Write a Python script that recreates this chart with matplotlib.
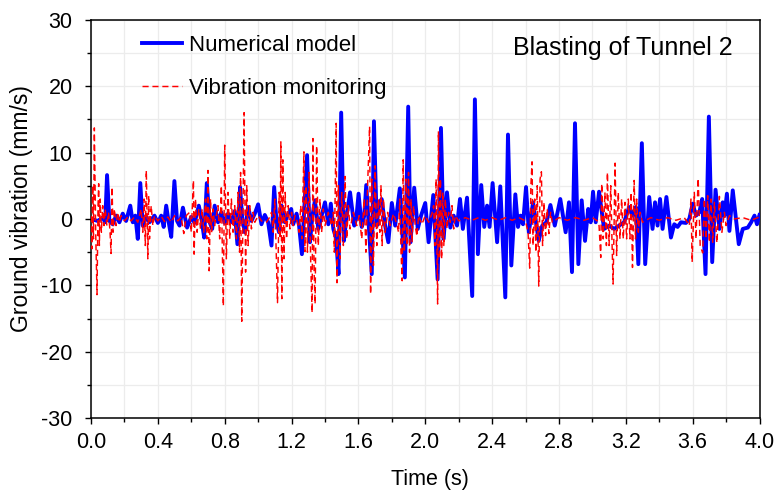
import matplotlib
matplotlib.use("Agg")
import matplotlib.pyplot as plt
from matplotlib.ticker import MultipleLocator, FormatStrFormatter

# ---------------- data ----------------
model_time = [
    0.000, 0.040, 0.070, 0.085, 0.096, 0.110, 0.130, 0.150, 0.170, 0.190,
    0.210, 0.235, 0.250, 0.265, 0.280, 0.295, 0.310, 0.330, 0.350, 0.380,
    0.400, 0.420, 0.435, 0.450, 0.465, 0.480, 0.499, 0.515, 0.530, 0.550,
    0.575, 0.600, 0.620, 0.645, 0.660, 0.677, 0.693, 0.710, 0.725, 0.740,
    0.760, 0.780, 0.800, 0.820, 0.840, 0.860, 0.876, 0.892, 0.905, 0.920,
    0.940, 0.960, 0.980, 1.000, 1.020, 1.040, 1.060, 1.080, 1.096, 1.110,
    1.125, 1.140, 1.160, 1.180, 1.198, 1.210, 1.230, 1.245, 1.262, 1.293,
    1.310, 1.325, 1.340, 1.360, 1.380, 1.400, 1.420, 1.435, 1.450, 1.467,
    1.481, 1.497, 1.513, 1.530, 1.550, 1.575, 1.588, 1.601, 1.620, 1.635,
    1.647, 1.680, 1.693, 1.710, 1.722, 1.739, 1.760, 1.779, 1.800, 1.820,
    1.848, 1.878, 1.898, 1.912, 1.934, 1.955, 1.975, 2.000, 2.020, 2.048,
    2.074, 2.094, 2.110, 2.130, 2.150, 2.170, 2.190, 2.208, 2.225, 2.250,
    2.281, 2.297, 2.315, 2.335, 2.353, 2.370, 2.385, 2.403, 2.430, 2.449,
    2.479, 2.495, 2.515, 2.539, 2.555, 2.570, 2.585, 2.603, 2.620, 2.645,
    2.679, 2.700, 2.725, 2.749, 2.775, 2.808, 2.840, 2.860, 2.878, 2.896,
    2.916, 2.936, 2.956, 2.975, 2.990, 3.004, 3.020, 3.040, 3.070, 3.100,
    3.130, 3.160, 3.190, 3.220, 3.240, 3.260, 3.275, 3.296, 3.316, 3.340,
    3.360, 3.375, 3.390, 3.405, 3.420, 3.443, 3.470, 3.490, 3.510, 3.530,
    3.560, 3.580, 3.600, 3.620, 3.640, 3.657, 3.677, 3.697, 3.717, 3.737,
    3.760, 3.780, 3.790, 3.805, 3.820, 3.840, 3.876, 3.900, 3.930, 3.950,
    3.970, 3.985, 4.000,
]
model_velocity = [
    0.0, -0.3, 0.2, -0.5, 6.6, -0.3, -0.8, 0.5, -0.5, 0.8,
    -0.3, 2.0, -0.5, 0.5, -3.0, 5.4, -1.0, 0.3, -0.5, 0.5,
    -0.6, 0.5, -1.2, 2.0, -0.5, -2.7, 5.7, -0.3, -1.0, 1.7,
    -1.3, 0.3, -0.6, 2.0, 0.2, -2.8, 5.4, -0.5, -1.5, 2.0,
    -0.5, 1.0, -0.6, 0.8, -0.5, 1.2, -3.8, 4.8, 0.0, -2.0,
    1.8, -0.3, 0.8, 2.2, -0.8, 0.6, -0.5, -4.0, 4.8, -0.5,
    -2.0, 2.0, -0.5, 0.8, 1.5, -0.8, 0.8, -1.0, -5.3, 9.6,
    -3.5, 0.5, 2.8, -1.5, 0.5, 2.5, -0.8, 2.3, -1.5, -3.0,
    -8.3, 16.0, -3.3, 0.5, 4.0, -1.0, 0.2, 3.8, -1.2, 0.5,
    5.1, -8.3, 14.7, -1.0, 2.0, 3.0, -1.0, -3.5, 2.4, -1.0,
    4.6, -8.8, 16.9, -3.5, 4.7, -1.5, 0.5, 2.4, -3.5, 3.6,
    -9.1, 13.7, -3.0, 4.0, -1.3, 0.5, -1.0, 3.0, -1.5, 3.2,
    -11.6, 18.0, -5.3, 5.1, -1.2, 2.0, -1.2, 5.4, -3.5, 4.9,
    -11.8, 12.7, -7.0, 3.7, -1.2, 0.5, -0.8, 4.8, -2.0, 2.5,
    -3.3, -1.0, -0.5, 2.1, -1.0, 3.0, -2.0, 2.5, -8.0, 14.4,
    -6.8, 2.8, -3.3, 1.5, -0.5, 4.1, -0.5, 4.1, -1.5, -1.0,
    -1.5, -1.0, -0.5, 1.8, 0.5, 1.8, -6.8, 11.4, -6.8, 3.3,
    -1.5, 2.5, -1.0, 3.0, -1.5, 3.3, -2.8, -0.8, -1.2, -0.5,
    -0.6, 0.0, 2.3, 0.5, 1.0, 3.0, -8.3, 15.4, -6.5, 4.4,
    -1.5, 2.5, 0.5, 3.8, -1.8, 4.3, -3.8, -1.5, -1.3, -0.5,
    0.5, -0.8, 0.6,
]

monitor_time = [
    0.000, 0.005, 0.010, 0.015, 0.020, 0.028, 0.036, 0.042, 0.046, 0.050,
    0.055, 0.062, 0.070, 0.078, 0.085, 0.095, 0.105, 0.114, 0.120, 0.126,
    0.132, 0.140, 0.150, 0.160, 0.170, 0.180, 0.200, 0.220, 0.240, 0.260,
    0.280, 0.300, 0.310, 0.318, 0.325, 0.331, 0.340, 0.345, 0.350, 0.360,
    0.370, 0.380, 0.400, 0.420, 0.440, 0.460, 0.480, 0.500, 0.520, 0.540,
    0.555, 0.570, 0.590, 0.600, 0.613, 0.617, 0.625, 0.635, 0.645, 0.655,
    0.665, 0.675, 0.685, 0.693, 0.700, 0.707, 0.715, 0.722, 0.730, 0.740,
    0.750, 0.760, 0.770, 0.780, 0.786, 0.792, 0.800, 0.810, 0.820, 0.830,
    0.840, 0.850, 0.860, 0.870, 0.880, 0.889, 0.895, 0.902, 0.916, 0.925,
    0.932, 0.940, 0.950, 0.960, 0.970, 0.980, 1.000, 1.020, 1.050, 1.070,
    1.080, 1.090, 1.100, 1.108, 1.116, 1.126, 1.132, 1.136, 1.142, 1.148,
    1.155, 1.162, 1.170, 1.180, 1.190, 1.200, 1.210, 1.220, 1.235, 1.245,
    1.255, 1.262, 1.274, 1.280, 1.287, 1.295, 1.305, 1.315, 1.323, 1.328,
    1.335, 1.341, 1.350, 1.360, 1.370, 1.380, 1.390, 1.400, 1.420, 1.440,
    1.450, 1.456, 1.462, 1.467, 1.472, 1.480, 1.490, 1.500, 1.510, 1.520,
    1.530, 1.540, 1.550, 1.570, 1.590, 1.605, 1.620, 1.635, 1.645, 1.655,
    1.667, 1.673, 1.680, 1.690, 1.700, 1.710, 1.720, 1.728, 1.735, 1.742,
    1.750, 1.760, 1.775, 1.790, 1.810, 1.830, 1.840, 1.848, 1.855, 1.862,
    1.868, 1.875, 1.885, 1.891, 1.900, 1.906, 1.915, 1.921, 1.930, 1.940,
    1.950, 1.960, 1.980, 2.000, 2.020, 2.040, 2.050, 2.058, 2.065, 2.074,
    2.079, 2.085, 2.091, 2.098, 2.105, 2.111, 2.120, 2.130, 2.140, 2.150,
    2.160, 2.170, 2.180, 2.200, 2.240, 2.280, 2.320, 2.360, 2.400, 2.440,
    2.480, 2.520, 2.560, 2.600, 2.615, 2.625, 2.632, 2.639, 2.645, 2.655,
    2.662, 2.670, 2.679, 2.687, 2.695, 2.702, 2.710, 2.720, 2.730, 2.740,
    2.750, 2.760, 2.800, 2.850, 2.900, 2.950, 3.000, 3.030, 3.040, 3.050,
    3.056, 3.065, 3.075, 3.084, 3.090, 3.100, 3.110, 3.118, 3.124, 3.136,
    3.145, 3.155, 3.165, 3.175, 3.185, 3.195, 3.205, 3.215, 3.225, 3.232,
    3.240, 3.250, 3.258, 3.265, 3.275, 3.285, 3.300, 3.350, 3.400, 3.450,
    3.500, 3.550, 3.580, 3.590, 3.597, 3.610, 3.620, 3.633, 3.645, 3.660,
    3.670, 3.680, 3.690, 3.700, 3.710, 3.720, 3.730, 3.745, 3.760, 3.775,
    3.790, 3.800, 3.820, 3.850, 3.900, 3.950, 4.000,
]
monitor_velocity = [
    0.5, -4.5, 5.0, -3.0, 13.7, -2.0, -11.4, 2.0, 5.3, -4.0,
    3.0, -2.0, 2.0, -1.0, 1.5, -1.0, 1.0, -2.0, -5.2, 4.8,
    -2.0, 1.5, -1.0, 1.0, -0.5, 0.5, -0.3, 0.3, -0.3, 0.3,
    -0.5, 1.5, -2.0, 3.0, -4.0, 7.3, -6.0, 3.5, -3.0, 2.0,
    -1.0, 0.5, -0.3, 0.4, -0.4, 0.3, -0.5, 0.5, -0.3, 0.3,
    -2.2, 0.5, 1.0, -2.0, 5.8, -5.3, 3.0, -2.0, 1.5, -1.5,
    1.5, -2.0, 3.0, -3.0, 7.3, -7.8, 3.0, -2.0, 1.5, -1.0,
    0.5, 2.0, -3.0, 5.0, -5.0, -13.1, 11.1, -6.0, 4.0, -3.0,
    3.0, -2.0, 2.0, -3.0, 4.0, -5.0, 7.0, -15.4, 16.0, -8.0,
    5.0, -4.0, 2.0, -1.5, 1.0, -0.5, 0.5, -0.3, -0.5, 0.3,
    1.0, -2.0, 3.0, -5.0, -12.6, 4.0, -3.0, 11.6, -12.0, 8.9,
    -6.0, 4.0, -3.0, 2.0, -1.5, 1.0, -1.0, 0.5, -0.5, -2.0,
    2.0, -3.0, 10.1, -4.9, 5.0, -5.0, 7.0, -7.0, -14.1, 12.1,
    -8.0, -12.8, 11.0, -4.0, 3.0, -2.0, 1.5, -1.0, 1.0, -1.0,
    1.0, -5.0, 6.0, 14.4, -9.6, 5.0, -6.0, 4.0, -4.0, 6.4,
    -3.0, 2.0, -1.5, 1.0, -1.0, 0.5, -3.0, 3.0, -5.0, 5.0,
    13.9, -11.3, 6.0, -7.0, 8.0, -4.0, 3.0, -2.0, 5.0, -4.0,
    3.0, -2.0, 1.0, -1.0, 0.8, -0.8, -2.0, 3.0, -5.0, -9.3,
    8.9, -5.0, 6.0, -4.0, 7.0, -5.0, 3.0, -3.5, 2.0, -1.0,
    -2.6, 0.5, -0.8, 0.5, -0.5, 0.8, 2.0, -4.0, 6.0, -12.8,
    13.2, -6.0, 6.0, -6.0, 4.0, -4.0, 3.0, -1.5, 1.0, -0.5,
    2.0, -1.5, 0.5, -0.3, 0.2, -0.2, 0.2, -0.2, 0.2, -0.2,
    0.2, -0.2, 0.2, -0.3, -2.0, -7.4, 5.0, 8.6, -4.0, 3.0,
    -5.0, 5.0, -10.1, 6.0, 7.1, -4.0, 2.5, -2.5, 1.5, -2.2,
    1.0, -0.5, 0.2, -0.2, 0.2, -0.2, 0.2, -0.3, -1.0, -5.8,
    5.3, -3.0, 4.0, -4.0, 7.0, -4.0, 5.0, -4.0, -9.8, 8.4,
    -5.5, 4.0, -3.0, 3.0, -3.0, 2.5, -3.0, 3.0, -3.0, 4.0,
    -7.3, 5.8, -3.0, 3.0, -2.0, 1.0, -0.5, 0.2, -0.2, 0.2,
    -0.2, 0.2, -1.0, 3.0, -6.5, 4.0, -3.0, 6.1, -4.0, -5.1,
    3.0, -3.0, 3.5, -3.5, 3.0, -3.5, 2.5, -3.6, 3.4, -2.0,
    1.0, -1.0, 0.5, 0.0, 0.2, -0.2, 0.3,
]

series_labels = ["Numerical model", "Vibration monitoring"]
panel_title = "Blasting of Tunnel 2"
x_label = "Time (s)"
y_label = "Ground vibration (mm/s)"

# ---------------- figure ----------------
plt.rcParams["font.family"] = ["Liberation Sans", "DejaVu Sans"]
plt.rcParams["axes.unicode_minus"] = False

W, H = 779, 494
fig = plt.figure(figsize=(W / 100, H / 100), dpi=100)
L, R, T, B = 91, 759.5, 19.6, 418.3
ax = fig.add_axes([L / W, 1 - B / H, (R - L) / W, (B - T) / H])

ax.plot(model_time, model_velocity, color="#0000ff", lw=2.8,
        label=series_labels[0], zorder=3, solid_joinstyle="round")
ax.plot(monitor_time, monitor_velocity, color="#ff0000", lw=1.05,
        linestyle=(0, (4.2, 2.6)), label=series_labels[1], zorder=4)

ax.set_xlim(0, 4.0)
ax.set_ylim(-30, 30)
ax.xaxis.set_major_locator(MultipleLocator(0.4))
ax.xaxis.set_minor_locator(MultipleLocator(0.2))
ax.xaxis.set_major_formatter(FormatStrFormatter("%.1f"))
ax.yaxis.set_major_locator(MultipleLocator(10))
ax.yaxis.set_minor_locator(MultipleLocator(5))

ax.grid(True, which="both", color="#ececec", lw=0.9, zorder=0)
ax.set_axisbelow(True)

for s in ax.spines.values():
    s.set_linewidth(1.1)
    s.set_color("black")

ax.tick_params(axis="both", which="major", direction="out", length=4.2,
               width=1.0, labelsize=15.5, colors="black")
ax.tick_params(axis="both", which="minor", direction="out", length=3.2,
               width=1.0)
ax.tick_params(axis="y", which="major", pad=9)
ax.tick_params(axis="x", which="major", pad=6)

fig.text(22 / W, 1 - 209 / H, y_label, rotation=90, ha="center",
         va="center", fontsize=16.5)
fig.text(430 / W, 1 - 479 / H, x_label, ha="center", va="center",
         fontsize=15.5)

ax.text((733 - L) / (R - L), (B - 48) / (B - T), panel_title,
        transform=ax.transAxes, ha="right", va="center", fontsize=18)

leg = ax.legend(loc="upper left",
                bbox_to_anchor=((142 - L) / (R - L), (B - 35) / (B - T)),
                frameon=False, fontsize=16, handlelength=1.8,
                handletextpad=0.33, labelspacing=1.0, borderpad=0,
                borderaxespad=0)

fig.savefig("out.png", dpi=100)
